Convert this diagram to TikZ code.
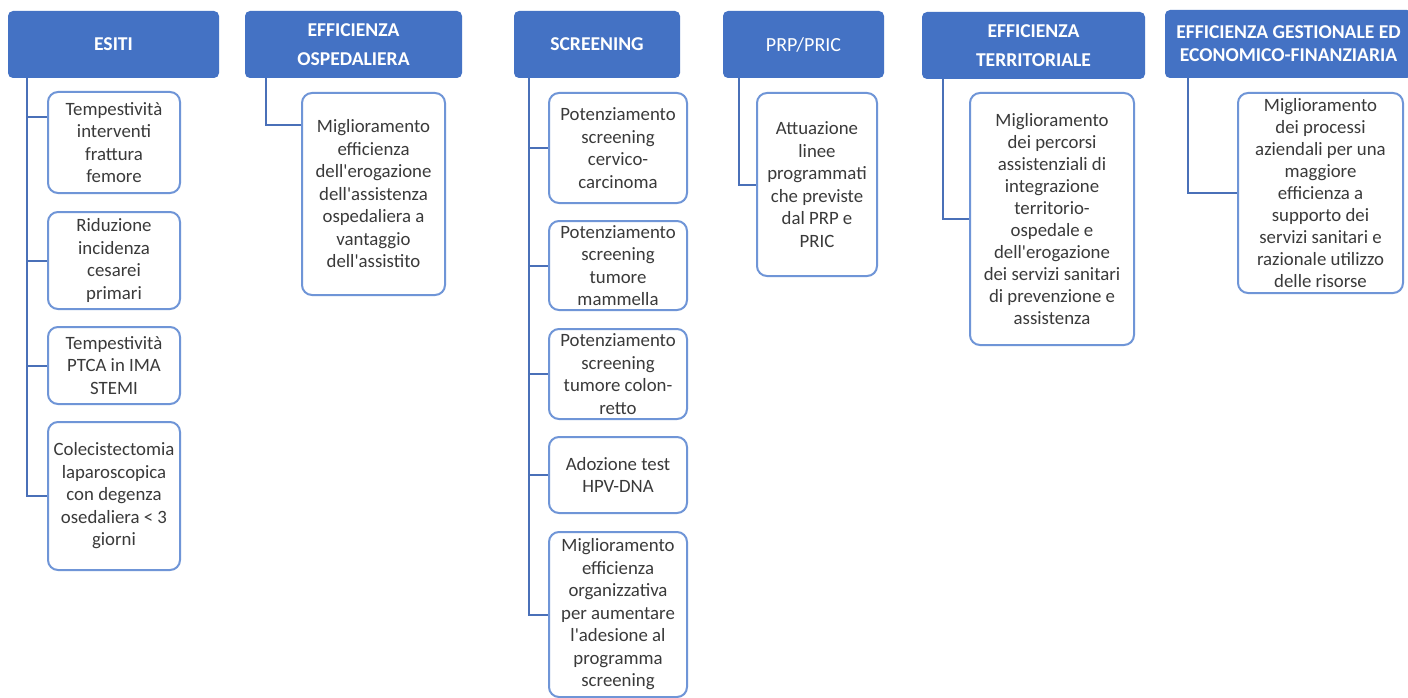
\documentclass[tikz,border=0pt]{standalone}
\usepackage{fontspec}
\setmainfont{Carlito}[Ligatures=TeXOff]
\definecolor{hdrblue}{HTML}{4472C4}
\definecolor{boxblue}{HTML}{6F95D7}
\definecolor{lnblue}{HTML}{4A70B8}
\definecolor{txt}{HTML}{3A3A3A}
\begin{document}
\begin{tikzpicture}[x=1pt,y=-1pt,
  hdr/.style={fill=hdrblue, draw=none, rounded corners=5pt, inner sep=0pt,
    text=white, align=center, font=\fontsize{19.6}{29}\selectfont\bfseries},
  sub/.style={draw=boxblue, line width=2pt, fill=white, rounded corners=10pt, inner sep=0pt,
    text=txt, align=center, font=\fontsize{18.8}{22.5}\selectfont},
  conn/.style={draw=lnblue, line width=2pt}]
\useasboundingbox (0,0) rectangle (1408,698);
\fill[white] (0,0) rectangle (1408,698);

% headers
\node[hdr, minimum width=211pt, minimum height=67pt] (h1) at (113.5,44.5) {ESITI};
\node[hdr, minimum width=217pt, minimum height=67pt] (h2) at (353.5,44.5) {EFFICIENZA\\OSPEDALIERA};
\node[hdr, minimum width=166pt, minimum height=67pt] (h3) at (597,44.5) {SCREENING};
\node[hdr, minimum width=161pt, minimum height=67pt, font=\fontsize{20}{29}\selectfont] (h4) at (803.5,44.5) {PRP/PRIC};
\node[hdr, minimum width=223pt, minimum height=67pt] (h5) at (1033.5,45.5) {EFFICIENZA\\TERRITORIALE};
\node[hdr, minimum width=247pt, minimum height=68pt, font=\fontsize{19.6}{23}\selectfont\bfseries] (h6) at (1288.5,44) {EFFICIENZA GESTIONALE ED\\ECONOMICO-FINANZIARIA};

% ESITI children
\node[sub, minimum width=132pt, minimum height=101pt] (c11) at (114,142.5) {Tempestività\\interventi\\frattura\\femore};
\node[sub, minimum width=132pt, minimum height=97pt] (c12) at (114,260.5) {Riduzione\\incidenza\\cesarei\\primari};
\node[sub, minimum width=132pt, minimum height=77pt] (c13) at (114,365.5) {Tempestività\\PTCA in IMA\\STEMI};
\node[sub, minimum width=132pt, minimum height=148pt] (c14) at (114,496) {Colecistectomia\\laparoscopica\\con degenza\\osedaliera < 3\\giorni};

% OSPEDALIERA child
\node[sub, minimum width=143pt, minimum height=202pt] (c21) at (373.5,194) {Miglioramento\\efficienza\\dell'erogazione\\dell'assistenza\\ospedaliera a\\vantaggio\\dell'assistito};

% SCREENING children
\node[sub, minimum width=138pt, minimum height=110pt] (c31) at (618,148) {Potenziamento\\screening\\cervico-\\carcinoma};
\node[sub, minimum width=138pt, minimum height=89pt] (c32) at (618,265.5) {Potenziamento\\screening\\tumore\\mammella};
\node[sub, minimum width=138pt, minimum height=90pt] (c33) at (618,374) {Potenziamento\\screening\\tumore colon-\\retto};
\node[sub, minimum width=138pt, minimum height=76pt] (c34) at (618,475) {Adozione test\\HPV-DNA};
\node[sub, minimum width=138pt, minimum height=165pt] (c35) at (618,614.5) {Miglioramento\\efficienza\\organizzativa\\per aumentare\\l'adesione al\\programma\\screening};

% PRP child
\node[sub, minimum width=120pt, minimum height=183pt] (c41) at (817,184.5) {Attuazione\\linee\\programmati\\che previste\\dal PRP e\\PRIC};

% TERRITORIALE child
\node[sub, minimum width=164pt, minimum height=252pt, font=\fontsize{18.8}{22}\selectfont] (c51) at (1052,219) {Miglioramento\\dei percorsi\\assistenziali di\\integrazione\\territorio-\\ospedale e\\dell'erogazione\\dei servizi sanitari\\di prevenzione e\\assistenza};

% GESTIONALE child
\node[sub, minimum width=165pt, minimum height=200pt, font=\fontsize{18.8}{22}\selectfont] (c61) at (1320.5,193) {Miglioramento\\dei processi\\aziendali per una\\maggiore\\efficienza a\\supporto dei\\servizi sanitari e\\razionale utilizzo\\delle risorse};

% connectors
\foreach \c in {c12,c13,c14} \draw[conn] ([xshift=19pt]h1.south west) |- (\c.west);
\draw[conn] ([xshift=19pt]h1.south west) |- ([yshift=-26pt]c11.north west);
\draw[conn] ([xshift=21pt]h2.south west) |- ([yshift=-33pt]c21.north west);
\foreach \c in {c31,c32,c33,c34,c35} \draw[conn] ([xshift=15pt]h3.south west) |- (\c.west);
\draw[conn] ([xshift=16pt]h4.south west) |- (c41.west);
\draw[conn] ([xshift=21pt]h5.south west) |- (c51.west);
\draw[conn] ([xshift=23pt]h6.south west) |- (c61.west);
\end{tikzpicture}
\end{document}
